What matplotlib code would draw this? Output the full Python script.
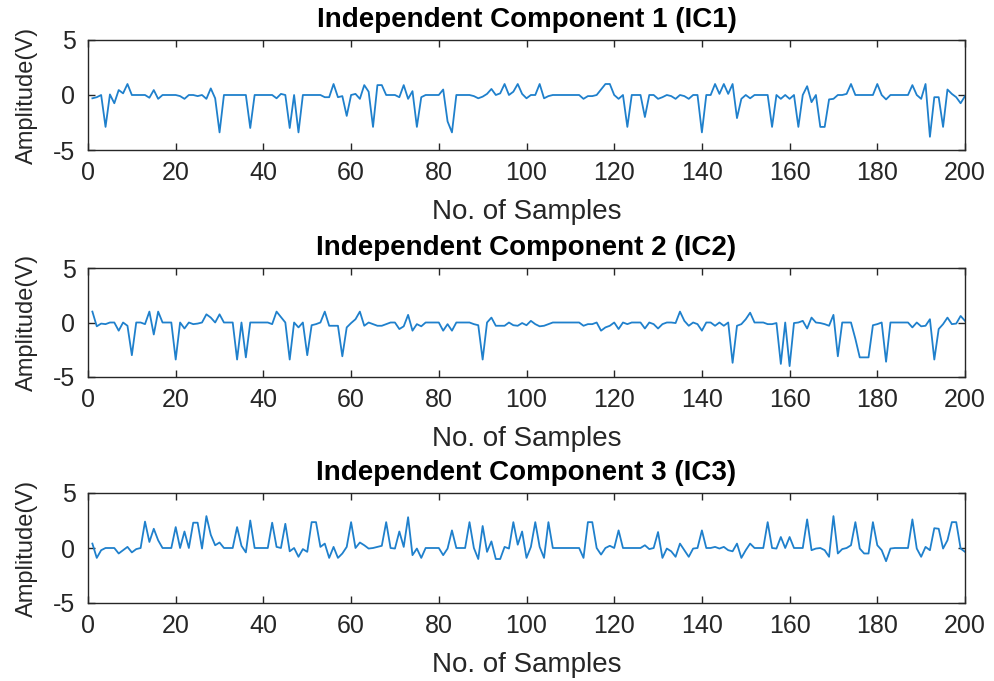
import numpy as np
import matplotlib
matplotlib.use("Agg")
import matplotlib.pyplot as plt

samples = list(range(1, 201))

ic1 = [
    -0.3, -0.2, 0, -2.9, 0.05, -0.75, 0.45, 0.15, 1.0, 0,
    0, 0, 0, -0.25, 0.45, -0.35, 0, 0, 0, 0,
    -0.1, -0.35, 0, 0, -0.1, 0, -0.35, 0.6, -0.3, -3.4,
    0, 0, 0, 0, 0, 0, -3.0, 0, 0, 0,
    0, 0, -0.3, 0.1, 0, -3.0, 0, -3.4, 0, 0,
    0, 0, 0, -0.2, -0.2, 1.0, -0.2, -0.1, -1.9, 0,
    0.1, -0.35, 0.9, 0.3, -2.9, 0.9, 0.9, 0, 0, 0,
    -0.2, 0.9, -0.35, 0.35, -2.9, -0.2, 0, 0, 0, 0,
    0.5, -2.4, -3.4, 0, 0, 0, 0, -0.1, -0.3, -0.15,
    0.1, 0.55, 0, 0.15, 1.0, 0, 0.3, 1.0, 0.1, -0.3,
    0, 0, 1.0, -0.3, -0.1, 0, 0, 0, 0, 0,
    0, 0, -0.35, -0.1, -0.1, 0, 0.5, 1.0, 1.0, 0,
    -0.35, 0, -2.9, 0, 0, 0, -2.0, 0, 0, -0.35,
    -0.2, 0, -0.1, -0.35, 0, -0.1, -0.35, 0, 0, -3.4,
    0, 0, 1.0, 0.1, 1.0, 0.1, 1.0, -2.1, -0.35, 0,
    -0.3, 0, 0, 0, 0, -2.9, 0, -0.35, 0, -0.35,
    0, -2.9, 0, 0.8, -0.65, 0, -2.9, -2.9, -0.4, -0.35,
    0, 0, 0.1, 1.0, 0, 0, 0, 0, 0, 1.0,
    0, -0.4, 0, 0, 0, 0, 0, 0.9, 0, -0.35,
    1.0, -3.8, -0.2, -0.2, -2.9, 0.5, 0.1, -0.2, -0.75, -0.1,
]

ic2 = [
    1.0, -0.35, -0.1, -0.15, 0, 0, -0.75, 0, -0.3, -3.0,
    0, 0, -0.15, 1.0, -1.1, 1.0, 0, 0, 0, -3.4,
    0, -0.55, 0, -0.15, -0.1, 0, 0.75, 0.45, 0, 0.75,
    0, 0, 0, -3.4, 0, -3.2, 0, 0, 0, 0,
    0, -0.15, 1.0, 0.5, 0, -3.4, 0, -0.45, 0, -3.0,
    -0.25, -0.15, 0, 1.0, -0.3, -0.3, -0.3, -3.1, -0.45, -0.05,
    0.3, 1.0, -0.3, 0, -0.15, -0.3, -0.3, -0.15, 0, 0,
    -0.6, -0.35, 0.7, -0.75, -0.15, -0.35, 0, 0, 0, 0,
    -0.75, -0.15, -0.75, 0, 0, 0, 0, -0.15, -0.25, -3.4,
    0, 0.45, -0.3, -0.3, -0.3, 0, -0.25, -0.3, -0.05, -0.25,
    0.15, -0.15, -0.35, -0.3, -0.15, 0, 0, 0, 0, 0,
    0, 0, -0.3, -0.15, -0.15, 0, -0.75, -0.45, -0.3, 0,
    -0.6, 0, -0.15, 0, 0, 0, -0.55, 0, -0.15, -0.55,
    -0.15, 0, 0, -0.05, 1.0, 0.15, -0.3, 0, -0.15, -0.75,
    0, 0, -0.3, 0, -0.3, 0, -3.7, -0.3, -0.15, 0.3,
    0.9, 0, 0, 0, -0.15, -0.15, -0.05, -3.8, 0, -4.0,
    -0.05, 0, 0.15, -0.55, 0.45, 0, -0.05, -0.15, -0.3, 0.7,
    -3.1, 0, 0, 0, -1.5, -3.2, -3.2, -3.2, -0.25, -0.15,
    0, -3.6, 0, 0, 0, 0, 0, -0.45, 0, -0.35,
    -0.3, 0.3, -3.4, -0.6, -0.15, 0.45, -0.15, -0.1, 0.6, 0.15,
]

ic3 = [
    0.4, -0.9, -0.2, 0, 0, 0, -0.5, -0.2, 0.1, -0.4,
    -0.1, 0, 2.4, 0.55, 1.75, 0.7, 0, 0, 0, 1.9,
    0, 1.5, 0, 2.3, 2.3, -0.05, 2.9, 1.2, 0.25, 0.5,
    0, 0, 0, 1.9, 0.2, -0.4, 2.5, 0, 0, 0,
    0, 2.3, 0.1, 0, 2.2, -0.3, 0, -0.8, -0.1, -0.35,
    2.35, 2.35, 0.1, 0.4, -0.9, 0.1, -0.9, -0.5, 0.1, 2.35,
    0, 0.5, 0.25, -0.05, 0, 0.1, 0.2, 2.35, 0, -0.05,
    1.5, 0.1, 2.8, -0.65, -0.05, -0.9, 0, 0, 0, 0,
    -0.65, -0.05, 1.6, 0, 0, 0, 2.35, 0, -1.0, 2.0,
    -0.35, 0.6, -1.0, -1.0, 0.1, -0.05, 2.35, 0.3, 1.5, -0.9,
    0.1, 2.35, 0.1, -0.9, 2.35, 0, 0, 0, 0, 0,
    0, 0, -0.9, 2.35, 2.35, 0, -0.6, 0, 0.2, 0,
    1.6, 0, 0, 0, 0, 0, 0.25, -0.1, 0, 1.45,
    -0.9, -0.05, -0.3, -0.8, 0.4, -0.2, -0.8, -0.05, 0, 1.6,
    0, 0, 0.1, -0.05, 0.1, -0.2, -0.3, 0.4, -0.9, -0.2,
    0.4, 0, 0, 0, 2.35, 0, -0.05, 1.0, 0, 1.0,
    0, 0, 0, 2.6, -0.2, -0.05, 0, -0.2, -0.8, 2.9,
    -0.5, -0.1, 0, 0.25, 2.35, -0.05, -0.5, -0.5, 2.35, 0.25,
    -0.2, -1.2, -0.05, 0, 0, 0, 0, 2.6, -0.05, -0.8,
    0.1, -0.2, 1.8, 1.75, -0.05, 0.7, 2.35, 2.35, -0.05, -0.35,
]

titles = ["Independent Component 1 (IC1)",
          "Independent Component 2 (IC2)",
          "Independent Component 3 (IC3)"]
series = [ic1, ic2, ic3]
xticks = [0, 20, 40, 60, 80, 100, 120, 140, 160, 180, 200]
yticks = [-5, 0, 5]

plt.rcParams['font.family'] = ['Liberation Sans', 'DejaVu Sans']
plt.rcParams['axes.unicode_minus'] = False
W, H = 994, 681
fig = plt.figure(figsize=(W / 100, H / 100), dpi=100)

# (top, bottom) pixel rows of each axes
rows = [(40, 150), (268, 377), (493, 603)]
left_px, right_px = 88, 965
line_color = (0.12, 0.5, 0.8)
axis_color = (0.15, 0.15, 0.15)

for (top, bot), y, title in zip(rows, series, titles):
    ax = fig.add_axes([left_px / W, 1 - bot / H, (right_px - left_px) / W, (bot - top) / H])
    ax.plot(samples, y, color=line_color, linewidth=1.3)
    ax.set_xlim(0, 200)
    ax.set_ylim(-5, 5)
    ax.set_xticks(xticks)
    ax.set_yticks(yticks)
    ax.tick_params(direction='in', top=True, right=True, length=5, width=1.0,
                   labelsize=18, colors=axis_color)
    ax.tick_params(axis='x', pad=8)
    ax.tick_params(axis='y', pad=9)
    for sp in ax.spines.values():
        sp.set_color(axis_color)
        sp.set_linewidth(1.0)
    ax.set_title(title, fontsize=20, fontweight='bold', pad=9)
    ax.set_xlabel("No. of Samples", fontsize=20, labelpad=10, color=axis_color)
    ax.set_ylabel("Amplitude(V)", fontsize=17, labelpad=11, color=axis_color)

fig.savefig("out.png", dpi=100)
